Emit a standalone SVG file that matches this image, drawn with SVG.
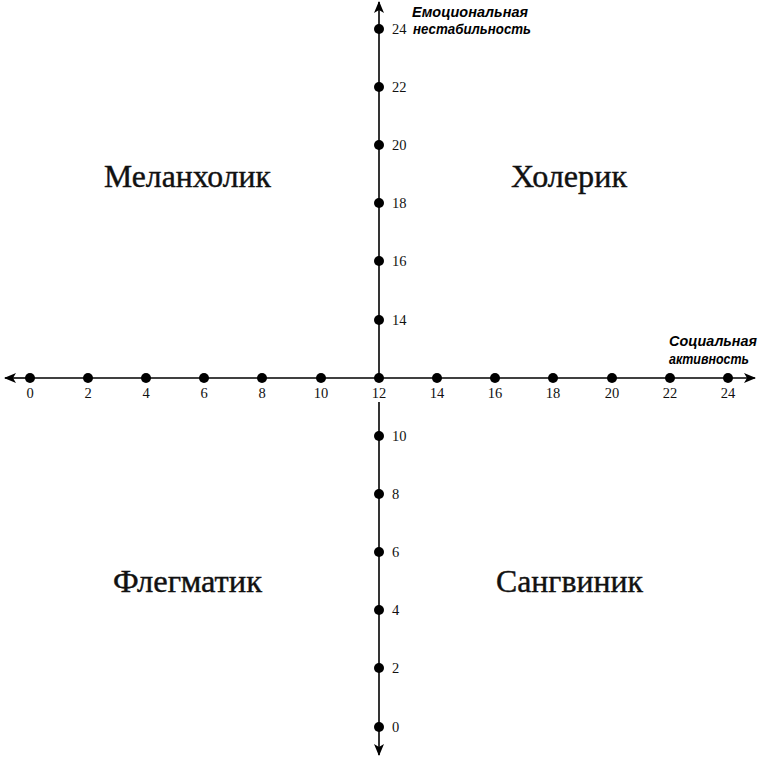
<svg xmlns="http://www.w3.org/2000/svg" width="758" height="758" viewBox="0 0 758 758">
<defs>
<marker id="arr" viewBox="0 0 12 10" refX="11" refY="5" markerWidth="12" markerHeight="10" markerUnits="userSpaceOnUse" orient="auto-start-reverse">
<path d="M0,0 L12,5 L0,10 L3,5 Z" fill="#000"/>
</marker>
</defs>
<style>
.ax{stroke:#000;stroke-width:1.6;fill:none}
.dot{fill:#000}
.num{font-family:"Liberation Serif",serif;font-size:14.5px;fill:#111}
.q{font-family:"Liberation Serif",serif;font-size:31px;fill:#111;text-anchor:middle;stroke:#111;stroke-width:0.4}
.al{font-family:"Liberation Sans",Arial,sans-serif;font-size:14px;font-weight:bold;font-style:italic;fill:#000}
</style>
<rect width="758" height="758" fill="#fff"/>
<g id="connectors">
<line class="ax" x1="30" y1="378" x2="5" y2="378" marker-end="url(#arr)"/>
<line class="ax" x1="30" y1="378" x2="755" y2="378" marker-end="url(#arr)"/>
<line class="ax" x1="379" y1="378" x2="379" y2="2" marker-end="url(#arr)"/>
<line class="ax" x1="379" y1="402" x2="379" y2="755" marker-end="url(#arr)"/>
</g>
<g id="x-axis" class="dot">
<circle cx="30" cy="378" r="5"/><circle cx="88" cy="378" r="5"/><circle cx="146" cy="378" r="5"/><circle cx="204" cy="378" r="5"/><circle cx="262" cy="378" r="5"/><circle cx="321" cy="378" r="5"/><circle cx="379" cy="378" r="5"/><circle cx="437" cy="378" r="5"/><circle cx="495" cy="378" r="5"/><circle cx="553" cy="378" r="5"/><circle cx="612" cy="378" r="5"/><circle cx="670" cy="378" r="5"/><circle cx="728" cy="378" r="5"/>
</g>
<g id="x-labels" class="num" text-anchor="middle">
<text x="30" y="398">0</text><text x="88" y="398">2</text><text x="146" y="398">4</text><text x="204" y="398">6</text><text x="262" y="398">8</text><text x="321" y="398">10</text><text x="379" y="398">12</text><text x="437" y="398">14</text><text x="495" y="398">16</text><text x="553" y="398">18</text><text x="612" y="398">20</text><text x="670" y="398">22</text><text x="728" y="398">24</text>
</g>
<g id="y-axis" class="dot">
<circle cx="379" cy="29" r="5"/><circle cx="379" cy="87" r="5"/><circle cx="379" cy="145" r="5"/><circle cx="379" cy="203" r="5"/><circle cx="379" cy="261" r="5"/><circle cx="379" cy="320" r="5"/><circle cx="379" cy="436" r="5"/><circle cx="379" cy="494" r="5"/><circle cx="379" cy="552" r="5"/><circle cx="379" cy="610" r="5"/><circle cx="379" cy="668" r="5"/><circle cx="379" cy="727" r="5"/>
</g>
<g id="y-labels" class="num">
<text x="392" y="34">24</text><text x="392" y="92">22</text><text x="392" y="150">20</text><text x="392" y="208">18</text><text x="392" y="266">16</text><text x="392" y="325">14</text><text x="392" y="441">10</text><text x="392" y="499">8</text><text x="392" y="557">6</text><text x="392" y="615">4</text><text x="392" y="673">2</text><text x="392" y="732">0</text>
</g>
<g id="axis-titles" class="al">
<text x="412" y="17" textLength="116" lengthAdjust="spacingAndGlyphs">Емоциональная</text>
<text x="413" y="34" textLength="118" lengthAdjust="spacingAndGlyphs">нестабильность</text>
<text x="669" y="346" textLength="88" lengthAdjust="spacingAndGlyphs">Социальная</text>
<text x="669" y="364" textLength="80" lengthAdjust="spacingAndGlyphs">активность</text>
</g>
<g id="melancholic"><text class="q" x="187.5" y="187" textLength="167" lengthAdjust="spacingAndGlyphs">Меланхолик</text></g>
<g id="choleric"><text class="q" x="569" y="187" textLength="116" lengthAdjust="spacingAndGlyphs">Холерик</text></g>
<g id="phlegmatic"><text class="q" x="187.5" y="592" textLength="149" lengthAdjust="spacingAndGlyphs">Флегматик</text></g>
<g id="sanguine"><text class="q" x="569.5" y="592" textLength="147" lengthAdjust="spacingAndGlyphs">Сангвиник</text></g>
</svg>
